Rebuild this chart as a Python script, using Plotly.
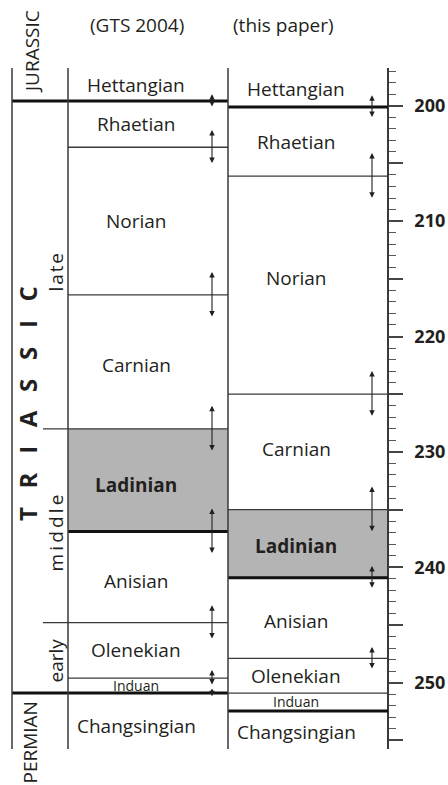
import plotly.graph_objects as go

# ---------------- data ----------------
stages = ["Hettangian", "Rhaetian", "Norian", "Carnian", "Ladinian",
          "Anisian", "Olenekian", "Induan", "Changsingian"]
# base age (Ma) of every stage except the lowest one, top to bottom
gts_bases = [199.6, 203.6, 216.4, 228.0, 236.9, 244.8, 249.6, 250.9]
gts_errors = [0.6, 1.5, 2.0, 2.0, 2.0, 1.5, 0.7, 0.4]
paper_bases = [200.1, 206.1, 225.0, 235.0, 240.9, 247.9, 250.9, 252.45]
paper_errors = [1.0, 2.0, 2.0, 2.0, 1.0, 1.0, 0.0, 0.1]
column_titles = ["(GTS 2004)", "(this paper)"]
period_names = ["JURASSIC", "TRIASSIC", "PERMIAN"]
epoch_names = ["late", "middle", "early"]
tick_values = [200, 205, 210, 215, 220, 225, 230, 235, 240, 245, 250, 255]
labelled_ticks = [200, 210, 220, 230, 240, 250]

# ---------------- layout / style constants ----------------
W, H = 448, 785
TOP_PX, BOT_PX = 68, 749
AGE_TOP, AGE_BOT = 196.73, 255.75
X_PERIOD, X_EPOCH, X_COL1, X_COL2, X_AXIS = 12, 43, 68, 228, 388
ARROW_X = [212, 372]
LABEL_X = [136, 296]
INK = "#231f20"
LINE = "#3a3a3a"
GRAY = "#b4b4b4"
FONT = "Open Sans"
SHADED = {"Ladinian"}
THICK = {"Hettangian", "Ladinian", "Induan"}
PERIOD_BASES = {"Hettangian", "Induan"}
EPOCH_BASES = {"Carnian", "Anisian"}
SMALL = {"Induan"}
# small vertical nudges (px) of the stage names, per column
LABEL_SHIFT = [
    {"Carnian": -3, "Ladinian": -5, "Anisian": -4, "Changsingian": -5},
    {"Hettangian": -2, "Norian": 7, "Carnian": 3, "Ladinian": -2,
     "Anisian": -3, "Changsingian": -2},
]


def paper_y(px):
    return (BOT_PX - px) / (BOT_PX - TOP_PX)


fig = go.Figure()
fig.add_trace(go.Scatter(x=[X_AXIS], y=[AGE_TOP], mode="markers",
                         marker=dict(opacity=0), hoverinfo="skip",
                         showlegend=False))

columns = [
    (gts_bases, gts_errors, X_COL1, X_COL2, ARROW_X[0], LABEL_X[0], True),
    (paper_bases, paper_errors, X_COL2, X_AXIS, ARROW_X[1], LABEL_X[1], False),
]

for ci, (bases, errs, x0, x1, arrow_x, label_x, is_gts) in enumerate(columns):
    tops = [AGE_TOP] + bases
    bots = bases + [AGE_BOT]
    for name, t, b in zip(stages, tops, bots):
        if name in SHADED:
            fig.add_shape(type="rect", xref="x", yref="y", x0=x0, x1=x1,
                          y0=t, y1=b, fillcolor=GRAY, line_width=0,
                          layer="below")
    for name, b in zip(stages, bases):
        start = x0
        if is_gts and name in PERIOD_BASES:
            start = X_PERIOD
        elif is_gts and name in EPOCH_BASES:
            start = X_EPOCH
        thick = name in THICK
        fig.add_shape(type="line", xref="x", yref="y", x0=start, x1=x1,
                      y0=b, y1=b,
                      line=dict(color="#111111" if thick else LINE,
                                width=3 if thick else 1.3))
    for b, e in zip(bases, errs):
        if e > 0:
            fig.add_annotation(x=arrow_x, y=b - e, ax=arrow_x, ay=b + e,
                               xref="x", yref="y", axref="x", ayref="y",
                               text="", showarrow=True, arrowhead=2,
                               arrowside="end+start", arrowsize=1.0,
                               arrowwidth=1.1, arrowcolor=INK,
                               standoff=0, startstandoff=0)
    for name, t, b in zip(stages, tops, bots):
        bold = name in SHADED
        size = 14 if name in SMALL else 19
        fig.add_annotation(x=label_x, y=(t + b) / 2, xref="x", yref="y",
                           text=name, showarrow=False,
                           xanchor="center", yanchor="middle",
                           yshift=LABEL_SHIFT[ci].get(name, 0),
                           font=dict(family=FONT, size=size, color=INK,
                                     weight="bold" if bold else "normal"))

# column borders
for xv in [X_PERIOD, X_COL1, X_COL2]:
    fig.add_shape(type="line", xref="x", yref="paper", x0=xv, x1=xv,
                  y0=0, y1=1, line=dict(color=LINE, width=1.5))

# column titles
for title, xc in zip(column_titles, [137, 283]):
    fig.add_annotation(x=xc, y=paper_y(25), xref="x", yref="paper",
                       text=title, showarrow=False,
                       xanchor="center", yanchor="middle",
                       font=dict(family=FONT, size=19, color=INK))

# period names
NBSP3 = "\u00a0\u00a0\u00a0"
period_text = [period_names[0], NBSP3.join(period_names[1]), period_names[2]]
period_pos = [(32, 52, 19, "normal"), (28, 404, 24, "bold"), (29.5, 743, 19, "normal")]
for txt, (xc, yc, sz, wt) in zip(period_text, period_pos):
    fig.add_annotation(x=xc, y=paper_y(yc), xref="x", yref="paper",
                       text=txt, showarrow=False, textangle=-90,
                       xanchor="center", yanchor="middle",
                       font=dict(family=FONT, size=sz, color=INK, weight=wt))

# epoch names
epoch_text = ["\u200a".join(epoch_names[0]), "\u2009".join(epoch_names[1]), epoch_names[2]]
for txt, yc in zip(epoch_text, [272, 533, 661]):
    fig.add_annotation(x=55.5, y=paper_y(yc), xref="x", yref="paper",
                       text=txt, showarrow=False, textangle=-90,
                       xanchor="center", yanchor="middle",
                       font=dict(family=FONT, size=19, color=INK))

fig.update_layout(
    width=W, height=H,
    margin=dict(l=0, r=0, t=TOP_PX, b=H - BOT_PX, pad=0, autoexpand=False),
    paper_bgcolor="white", plot_bgcolor="white",
    showlegend=False,
    xaxis=dict(range=[0, W], visible=False, fixedrange=True,
               automargin=False),
    yaxis=dict(
        range=[AGE_BOT, AGE_TOP], anchor="free", position=X_AXIS / W,
        side="right", showgrid=False, zeroline=False, automargin=False,
        showline=True, linecolor=LINE, linewidth=1.5,
        tickmode="array", tickvals=tick_values,
        ticktext=[str(v) if v in labelled_ticks else "" for v in tick_values],
        ticks="outside", ticklen=14, tickwidth=1.8, tickcolor="#444444",
        ticklabelstandoff=8,
        tickfont=dict(family=FONT, size=18, color=INK, weight="bold"),
        minor=dict(tickmode="linear", tick0=0, dtick=1, ticks="outside",
                   ticklen=7, tickwidth=1.3, tickcolor="#555555",
                   showgrid=False),
        fixedrange=True,
    ),
)

fig.write_html("out.html", config={"displayModeBar": False},
               post_script="document.body.style.margin='0';"
                           "document.body.style.overflow='hidden';")
